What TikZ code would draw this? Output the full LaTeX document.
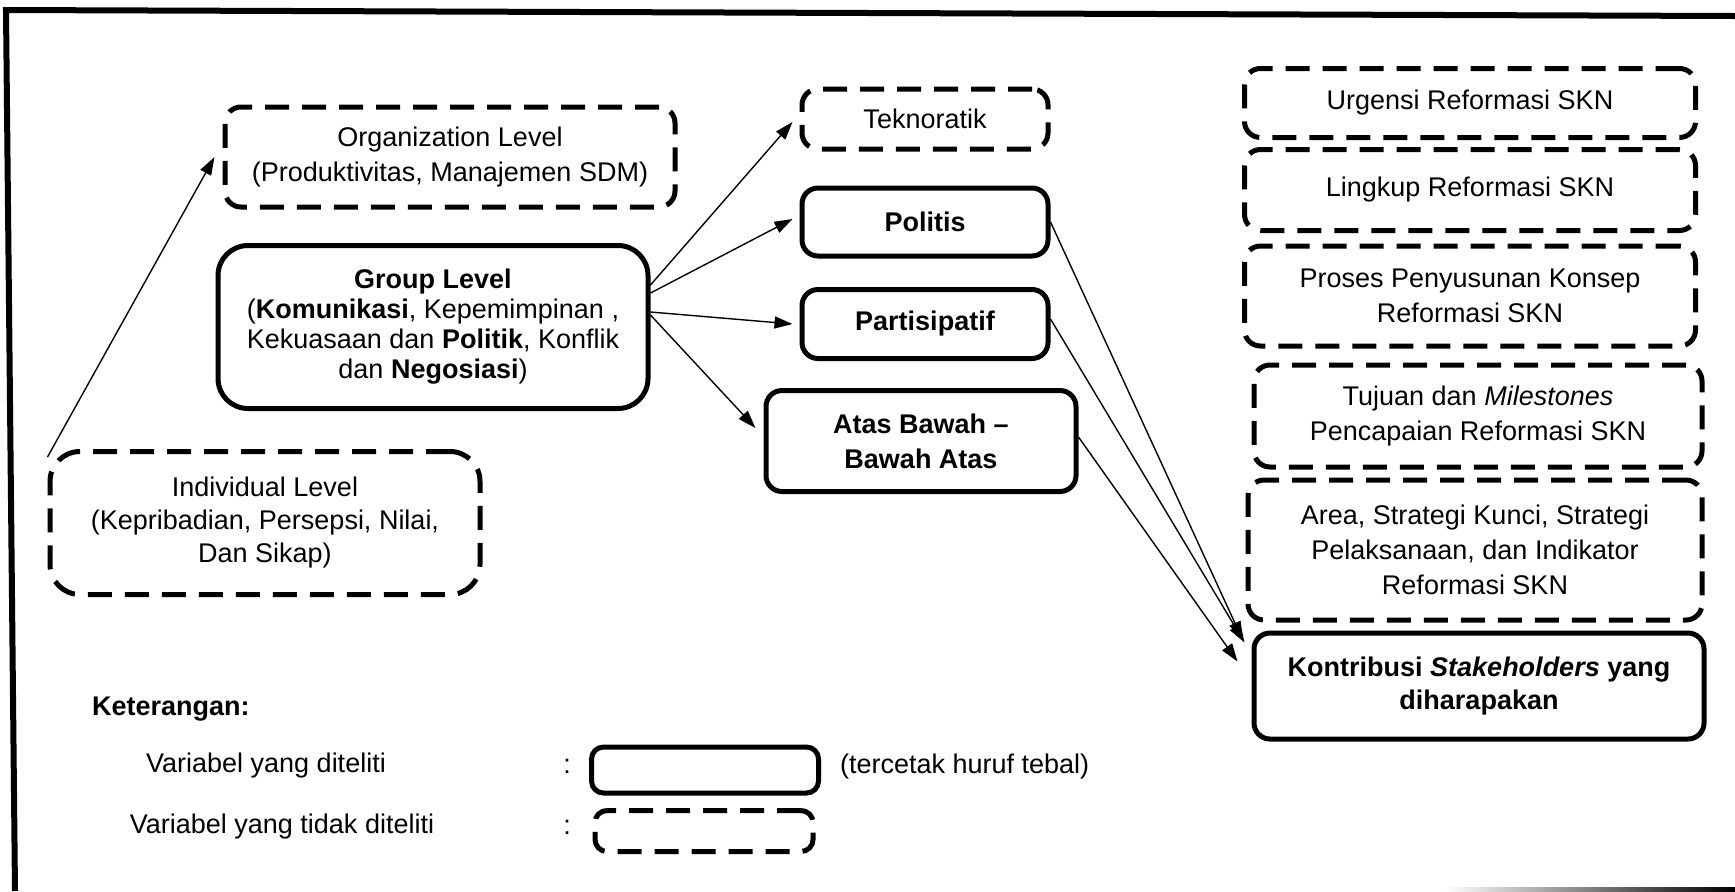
\documentclass[tikz,border=0pt]{standalone}
\usepackage{fontspec}
\setmainfont{Liberation Sans}
\usetikzlibrary{arrows.meta}
\tikzset{
  every node/.style={font=\fontsize{13.5}{17.5}\selectfont},
  varbox/.style={draw, line width=2.5pt, rounded corners=8pt, align=center, inner sep=0pt},
  nonvar/.style={varbox, dash pattern=on 12pt off 6.5pt},
  link/.style={-{Triangle[length=9pt,width=6pt]}, line width=0.7pt},
}
\begin{document}
\begin{tikzpicture}[x=0.5pt, y=-0.5pt]
    \useasboundingbox (0,0) rectangle (1735,891);
    \draw[line width=3pt] (15,891) -- (6,10) -- (1735,16);
    \shade[left color=white, right color=black] (1445,887) rectangle (1735,891);

    \node[nonvar, minimum width=225pt, minimum height=50pt] (org) at (450,157) {Organization Level\\(Produktivitas, Manajemen SDM)};
    \node[varbox, rounded corners=15pt, minimum width=215pt, minimum height=81.5pt, font=\fontsize{13.5}{15}\selectfont] (grp) at (433,327)
        {\textbf{Group Level}\\(\textbf{Komunikasi}, Kepemimpinan ,\\Kekuasaan dan \textbf{Politik}, Konflik\\dan \textbf{Negosiasi})};
    \node[nonvar, rounded corners=15pt, minimum width=215pt, minimum height=71.5pt, font=\fontsize{13.5}{16.5}\selectfont] (ind) at (265,523)
        {Individual Level\\(Kepribadian, Persepsi, Nilai,\\Dan Sikap)};

    \node[nonvar, minimum width=123pt, minimum height=30pt] (tek) at (925,119) {Teknoratik};
    \node[varbox, minimum width=123pt, minimum height=34pt] (pol) at (925,222) {\textbf{Politis}};
    \node[varbox, minimum width=123pt, minimum height=34.5pt] (par) at (925,324) {\textbf{Partisipatif}};
    \node[varbox, minimum width=155pt, minimum height=50.5pt] (atb) at (921,441) {\textbf{Atas Bawah --}\\\textbf{Bawah Atas}};

    \node[nonvar, minimum width=225.5pt, minimum height=34.5pt] (urg) at (1470,103) {Urgensi Reformasi SKN};
    \node[nonvar, minimum width=225.5pt, minimum height=40.5pt] (lkp) at (1470,190) {Lingkup Reformasi SKN};
    \node[nonvar, minimum width=225.5pt, minimum height=50pt] (prs) at (1470,296) {Proses Penyusunan Konsep\\Reformasi SKN};
    \node[nonvar, minimum width=224pt, minimum height=51pt] (tuj) at (1478,416) {Tujuan dan \textit{Milestones}\\Pencapaian Reformasi SKN};
    \node[nonvar, minimum width=227pt, minimum height=70pt] (are) at (1475,550) {Area, Strategi Kunci, Strategi\\Pelaksanaan, dan Indikator\\Reformasi SKN};
    \node[varbox, minimum width=225pt, minimum height=53pt, font=\fontsize{13.5}{16.5}\selectfont] (kon) at (1479,686)
        {\textbf{Kontribusi \textit{Stakeholders} yang}\\\textbf{diharapakan}};

    \draw[link] ([yshift=-4pt]ind.north west) -- ([xshift=-4pt]org.west);
    \draw[link] ([yshift=21pt]grp.east) -- ([xshift=-3.5pt,yshift=-1.5pt]tek.west);
    \draw[link] ([yshift=17pt]grp.east) -- ([xshift=-3.5pt,yshift=1.5pt]pol.west);
    \draw[link] ([yshift=7.5pt]grp.east) -- ([xshift=-3.5pt]par.west);
    \draw[link] ([yshift=6pt]grp.east) -- ([xshift=-4pt,yshift=6.5pt]atb.west);
    \draw[link] (pol.east) -- ([xshift=-4.5pt,yshift=-4.5pt]kon.north west);
    \draw[link] ([yshift=2.5pt]par.east) -- ([xshift=-3.5pt,yshift=-6pt]kon.north west);
    \draw[link] ([yshift=2pt]atb.east) -- ([xshift=-7pt,yshift=-15.5pt]kon.north west);

    \node[anchor=west, font=\fontsize{13.5}{17.5}\selectfont\bfseries] (ket) at (85,709) {Keterangan:};
    \node (lv1) at (266,766) {Variabel yang diteliti};
    \node (lv2) at (282,827) {Variabel yang tidak diteliti};
    \node (col1) at (567,766) {:};
    \node (col2) at (567,827) {:};
    \node[varbox, rounded corners=6pt, minimum width=113.5pt, minimum height=23pt] (lb1) at (705,770) {};
    \node[nonvar, rounded corners=6pt, minimum width=109pt, minimum height=20.5pt] (lb2) at (704,831) {};
    \node[anchor=west] (lt1) at (833,766) {(tercetak huruf tebal)};
\end{tikzpicture}
\end{document}
